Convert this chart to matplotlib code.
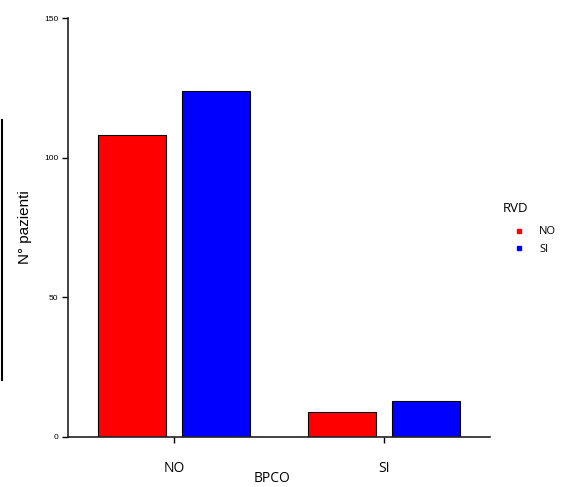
import numpy as np
import matplotlib.pyplot as plt
from matplotlib.lines import Line2D

# dati
gruppi = ['NO', 'SI']          # BPCO
rvd_no = [108, 9]
rvd_si = [124, 13]
serie = ['NO', 'SI']           # RVD
colori = ['#FF0000', '#0000FF']

fig = plt.figure(figsize=(5.66, 4.87), dpi=100)
ax = fig.add_axes([0.120, 0.1027, 0.746, 0.860])

x = np.arange(len(gruppi))
w = 0.324
ax.bar(x - 0.2, rvd_no, w, color=colori[0], edgecolor='black', linewidth=0.8)
ax.bar(x + 0.2, rvd_si, w, color=colori[1], edgecolor='black', linewidth=0.8)

ax.set_xlim(-0.505, 1.505)
ax.set_ylim(0, 150)
ax.set_yticks([0, 50, 100, 150])
ax.set_xticks(x)
ax.set_xticklabels(gruppi, family='Open Sans', fontsize=10)
for lab in ax.get_yticklabels():
    lab.set_family('Liberation Sans')
    lab.set_fontsize(6)

ax.spines['top'].set_visible(False)
ax.spines['right'].set_visible(False)
for s in ['left', 'bottom']:
    ax.spines[s].set_linewidth(1.2)
    ax.spines[s].set_color('#222222')
ax.tick_params(axis='y', length=4.5, width=1, pad=2.5)
ax.tick_params(axis='x', length=4, width=1, pad=13)

ax.set_ylabel('N° pazienti', family='Liberation Sans', fontsize=11, color='black')
ax.yaxis.set_label_coords(-0.085, 0.5)
ax.set_xlabel('BPCO', family='Open Sans', fontsize=10)
ax.xaxis.set_label_coords(0.483, -0.081)

# linea verticale a sinistra (come nell'originale)
fig.add_artist(Line2D([0.004, 0.004], [1 - 120 / 487, 1 - 380 / 487],
                      color='black', linewidth=1.5))

handles = [Line2D([], [], marker='s', linestyle='none', color=c, markersize=3.5)
           for c in colori]
leg = fig.legend(handles, serie, title='RVD', loc='upper left',
                 bbox_to_anchor=(0.87, 0.605), frameon=False,
                 prop={'family': 'Open Sans', 'size': 8},
                 handlelength=3.0, handletextpad=0.3, labelspacing=0.6)
leg.get_title().set_family('Open Sans')
leg.get_title().set_fontsize(9.5)
leg._legend_box.align = 'left'
leg._legend_box.sep = 8

fig.savefig('out.png', dpi=100)
